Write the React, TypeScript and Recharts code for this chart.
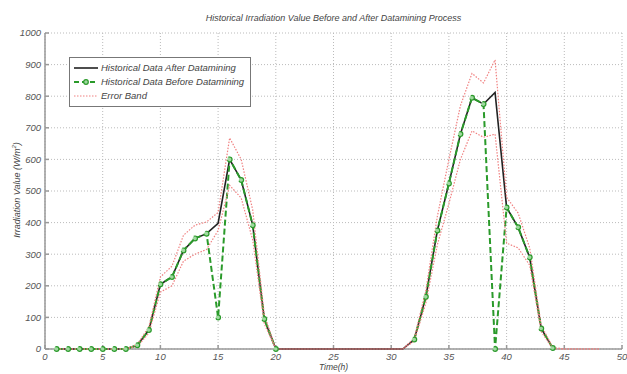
import { ComposedChart, Line, XAxis, YAxis, CartesianGrid } from 'recharts';

const hours = Array.from({ length: 48 }, (_, i) => i + 1);

// black line, after datamining (hours 1..48)
const afterValues: (number | null)[] = [
  0, 0, 0, 0, 0, 0, 0, 12, 60, 205,
  228, 312, 350, 365, 398, 600, 535, 392, 95, 0,
  0, 0, 0, 0, 0, 0, 0, 0, 0, 0,
  0, 30, 165, 375, 524, 680, 795, 775, 812, 448,
  385, 290, 65, 3, null, null, null, null,
];

// green dashed line, before datamining
const beforeValues: (number | null)[] = [
  0, 0, 0, 0, 0, 0, 0, 12, 60, 205,
  228, 312, 350, 365, 100, 600, 535, 392, 95, 0,
  null, null, null, null, null, null, null, null, null, null,
  null, 30, 165, 375, 524, 680, 795, 775, 0, 448,
  385, 290, 65, 3, null, null, null, null,
];

const upperBand = [
  0, 0, 0, 0, 0, 0, 0, 15, 70, 228,
  262, 360, 392, 402, 432, 668, 600, 440, 110, 0,
  0, 0, 0, 0, 0, 0, 0, 0, 0, 0,
  0, 35, 185, 420, 600, 770, 872, 842, 915, 480,
  430, 320, 75, 5, 0, 0, 0, 0,
];

const lowerBand = [
  0, 0, 0, 0, 0, 0, 0, 8, 50, 180,
  200, 278, 300, 315, 375, 518, 478, 345, 80, 0,
  0, 0, 0, 0, 0, 0, 0, 0, 0, 0,
  0, 25, 145, 330, 460, 600, 690, 670, 680, 335,
  320, 265, 55, 0, 0, 0, 0, 0,
];

const xTicks = [0, 5, 10, 15, 20, 25, 30, 35, 40, 45, 50];
const yTicks = [0, 100, 200, 300, 400, 500, 600, 700, 800, 900, 1000];

const data = hours.map((h, i) => ({
  hour: h,
  after: afterValues[i],
  before: beforeValues[i],
  upper: upperBand[i],
  lower: lowerBand[i],
}));

const font = '"Liberation Sans", Arial, sans-serif';
const tickStyle = { fill: '#555', fontSize: 9.5, fontStyle: 'italic', fontFamily: font };

const LegendBox = () => (
  <div
    style={{
      position: 'absolute',
      left: 69,
      top: 57,
      border: '1px solid #777',
      background: '#fff',
      padding: '3px 6px 3px 3px',
      fontFamily: font,
      fontStyle: 'italic',
      fontSize: 9.5,
      color: '#444',
      lineHeight: '14px',
      zIndex: 2,
    }}
  >
    <div style={{ display: 'flex', alignItems: 'center' }}>
      <svg width={26} height={10}><line x1={1} y1={5} x2={25} y2={5} stroke="#222" strokeWidth={1.6} /></svg>
      <span style={{ marginLeft: 2 }}>Historical Data After Datamining</span>
    </div>
    <div style={{ display: 'flex', alignItems: 'center' }}>
      <svg width={26} height={10}>
        <line x1={1} y1={5} x2={25} y2={5} stroke="#2a9a2a" strokeWidth={1.8} strokeDasharray="5 3" />
        <circle cx={13} cy={5} r={2.3} stroke="#2a9a2a" fill="#9fd89f" strokeWidth={1.2} />
      </svg>
      <span style={{ marginLeft: 2 }}>Historical Data Before Datamining</span>
    </div>
    <div style={{ display: 'flex', alignItems: 'center' }}>
      <svg width={26} height={10}><line x1={1} y1={5} x2={25} y2={5} stroke="#f08080" strokeWidth={1} strokeDasharray="1.5 1.5" /></svg>
      <span style={{ marginLeft: 2 }}>Error Band</span>
    </div>
  </div>
);

export default function App() {
  return (
    <div style={{ position: 'absolute', left: 0, top: 0, width: 627, height: 374, background: '#fff' }}>
      <div
        style={{
          position: 'absolute', top: 13, left: 45, width: 577, textAlign: 'center',
          fontFamily: font, fontStyle: 'italic', fontSize: 9, color: '#444',
        }}
      >
        Historical Irradiation Value Before and After Datamining Process
      </div>
      <div style={{ position: 'absolute', left: 4, top: 190, width: 0, height: 0 }}>
        <div
          style={{
            position: 'absolute', transform: 'translate(-50%, -50%) rotate(-90deg)', left: 12, top: 0,
            whiteSpace: 'nowrap', fontFamily: font, fontStyle: 'italic', fontSize: 9, color: '#444',
          }}
        >
          Irradiation Value (W/m<sup style={{ fontSize: 6 }}>2</sup>)
        </div>
      </div>
      <div
        style={{
          position: 'absolute', top: 362, left: 45, width: 577, textAlign: 'center',
          fontFamily: font, fontStyle: 'italic', fontSize: 8.5, color: '#444',
        }}
      >
        Time(h)
      </div>
      <LegendBox />
      <ComposedChart width={627} height={374} data={data} margin={{ top: 33, right: 5, bottom: 5, left: 8 }}>
        <CartesianGrid stroke="#bbb" strokeDasharray="1 2" />
        <XAxis
          dataKey="hour"
          type="number"
          domain={[0, 50]}
          ticks={xTicks}
          height={20}
          stroke="#999"
          strokeWidth={1.5}
          tick={tickStyle}
          tickSize={-4}
          tickMargin={8}
        />
        <YAxis
          type="number"
          domain={[0, 1000]}
          ticks={yTicks}
          width={37}
          stroke="#999"
          strokeWidth={1.5}
          tick={tickStyle}
          tickSize={-4}
          tickMargin={8}
        />
        <Line dataKey="after" stroke="#222" strokeWidth={1.6} dot={false} isAnimationActive={false} zIndex={550} />
        <Line
          dataKey="before"
          stroke="#2a9a2a"
          strokeWidth={2}
          strokeDasharray="6 3"
          dot={{ r: 2.4, stroke: '#2a9a2a', fill: '#9fd89f', strokeWidth: 1.2 }}
          isAnimationActive={false}
          zIndex={560}
        />
        <Line dataKey="upper" stroke="#f08080" strokeWidth={1.2} strokeDasharray="1.5 1.5" dot={false} isAnimationActive={false} zIndex={570} />
        <Line dataKey="lower" stroke="#f08080" strokeWidth={1.2} strokeDasharray="1.5 1.5" dot={false} isAnimationActive={false} zIndex={570} />
      </ComposedChart>
    </div>
  );
}
